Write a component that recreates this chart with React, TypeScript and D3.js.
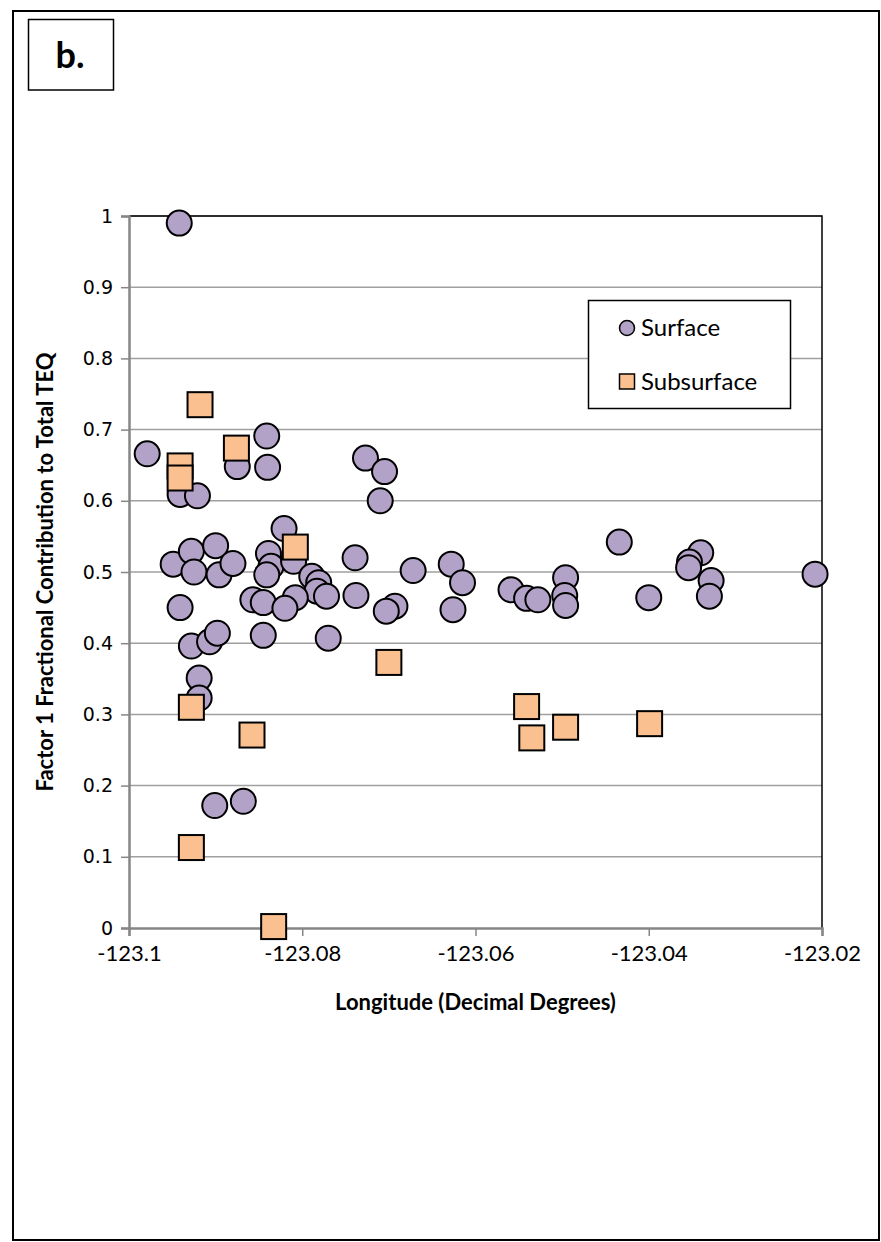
import { useEffect, useRef } from "react";
import * as d3 from "d3";

// longitude (decimal degrees), factor 1 fraction
const surfaceLon = [
  -123.0942, -123.0979, -123.0941, -123.0921, -123.0875, -123.0841, -123.084,
  -123.0821, -123.0949, -123.0928, -123.09, -123.0925, -123.0896, -123.088,
  -123.0839, -123.0836, -123.0841, -123.081, -123.0789, -123.0781, -123.0783,
  -123.0772, -123.0857, -123.0845, -123.0808, -123.082, -123.0941, -123.0845,
  -123.077, -123.0928, -123.0907, -123.0898, -123.0919, -123.0919, -123.0901,
  -123.0868, -123.0727, -123.0705, -123.071, -123.0739, -123.0738, -123.0672,
  -123.0693, -123.0703, -123.0628, -123.0615, -123.0626, -123.0559, -123.0541,
  -123.0528, -123.0496, -123.0497, -123.0496, -123.0434, -123.04, -123.034,
  -123.0353, -123.0354, -123.0328, -123.033, -123.0208,
];
const surfaceVal = [
  0.99, 0.666, 0.609, 0.607, 0.648, 0.691, 0.647, 0.561, 0.511, 0.529, 0.537,
  0.5, 0.496, 0.512, 0.526, 0.508, 0.496, 0.515, 0.494, 0.485, 0.473, 0.466,
  0.461, 0.457, 0.464, 0.449, 0.45, 0.411, 0.407, 0.396, 0.402, 0.414, 0.351,
  0.323, 0.172, 0.178, 0.66, 0.641, 0.6, 0.52, 0.467, 0.502, 0.452, 0.445,
  0.511, 0.485, 0.447, 0.475, 0.463, 0.461, 0.492, 0.467, 0.453, 0.542, 0.464,
  0.527, 0.514, 0.506, 0.488, 0.466, 0.497,
];

const subsurfaceLon = [
  -123.0918, -123.0941, -123.0941, -123.0876, -123.0808, -123.07, -123.0928,
  -123.0858, -123.0928, -123.0833, -123.0541, -123.0535, -123.0496, -123.0399,
];
const subsurfaceVal = [
  0.735, 0.649, 0.632, 0.674, 0.535, 0.373, 0.31, 0.271, 0.113, 0.002, 0.311,
  0.267, 0.282, 0.287,
];

const xTicks = [-123.1, -123.08, -123.06, -123.04, -123.02];
const yTicks = [0, 0.1, 0.2, 0.3, 0.4, 0.5, 0.6, 0.7, 0.8, 0.9, 1];

const W = 881;
const H = 1242;
const font = "Lato, 'Open Sans', sans-serif";

export default function App() {
  const svgRef = useRef<SVGSVGElement | null>(null);

  useEffect(() => {
    if (!svgRef.current) return;
    const svg = d3.select(svgRef.current);
    svg.selectAll("*").remove();

    const plot = { left: 129, right: 822, top: 216, bottom: 928 };
    const x = d3.scaleLinear().domain([-123.1, -123.02]).range([plot.left, plot.right]);
    const y = d3.scaleLinear().domain([0, 1]).range([plot.bottom, plot.top]);

    svg.append("rect").attr("width", W).attr("height", H).attr("fill", "#fff");

    // outer frame
    svg.append("rect")
      .attr("x", 13).attr("y", 11)
      .attr("width", 866).attr("height", 1229)
      .attr("fill", "none").attr("stroke", "#000").attr("stroke-width", 2);

    // panel label
    svg.append("rect")
      .attr("x", 28.5).attr("y", 19.5)
      .attr("width", 85).attr("height", 70.5)
      .attr("fill", "#fff").attr("stroke", "#000").attr("stroke-width", 1.5);
    svg.append("text")
      .attr("x", 70).attr("y", 68)
      .attr("text-anchor", "middle")
      .attr("font-family", font).attr("font-weight", 700).attr("font-size", 36)
      .text("b.");

    // gridlines
    svg.append("g")
      .selectAll("line")
      .data(yTicks.filter((t) => t > 0))
      .enter()
      .append("line")
      .attr("x1", plot.left).attr("x2", plot.right)
      .attr("y1", (d) => y(d)).attr("y2", (d) => y(d))
      .attr("stroke", "#a0a0a0").attr("stroke-width", 1.5);

    // plot border (top/right black)
    svg.append("path")
      .attr("d", `M${plot.left},${plot.top}H${plot.right}V${plot.bottom}`)
      .attr("fill", "none").attr("stroke", "#000").attr("stroke-width", 1.5);

    // y axis
    const yAxis = svg.append("g")
      .attr("transform", `translate(${plot.left},0)`)
      .call(d3.axisLeft(y).tickValues(yTicks).tickSize(8).tickPadding(8)
        .tickFormat((v) => String(v)));
    yAxis.select(".domain").attr("stroke", "#868686").attr("stroke-width", 2.5);
    yAxis.selectAll(".tick line").attr("stroke", "#868686").attr("stroke-width", 1.5);
    yAxis.selectAll(".tick text")
      .attr("font-family", "'DejaVu Sans', sans-serif").attr("font-size", 19).attr("fill", "#000");

    // x axis
    const xAxis = svg.append("g")
      .attr("transform", `translate(0,${plot.bottom})`)
      .call(d3.axisBottom(x).tickValues(xTicks).tickSize(8).tickPadding(9)
        .tickFormat((v) => String(v)));
    xAxis.select(".domain").attr("stroke", "#868686").attr("stroke-width", 2.5);
    xAxis.selectAll(".tick line").attr("stroke", "#868686").attr("stroke-width", 1.5);
    xAxis.selectAll(".tick text")
      .attr("font-family", font).attr("font-size", 22).attr("fill", "#000");

    // axis titles
    svg.append("text")
      .attr("transform", `translate(53,${(plot.top + plot.bottom) / 2}) rotate(-90)`)
      .attr("text-anchor", "middle")
      .attr("font-family", font).attr("font-weight", 700).attr("font-size", 22)
      .text("Factor 1 Fractional Contribution to Total TEQ");
    svg.append("text")
      .attr("x", (plot.left + plot.right) / 2).attr("y", 1010)
      .attr("text-anchor", "middle")
      .attr("font-family", font).attr("font-weight", 700).attr("font-size", 22)
      .text("Longitude (Decimal Degrees)");

    const purple = "#b3a2c7";
    const orange = "#fac090";

    // surface circles
    svg.append("g")
      .selectAll("circle")
      .data(surfaceLon.map((lon, i) => ({ lon, v: surfaceVal[i] })))
      .enter()
      .append("circle")
      .attr("cx", (d) => x(d.lon)).attr("cy", (d) => y(d.v))
      .attr("r", 12.5)
      .attr("fill", purple).attr("stroke", "#000").attr("stroke-width", 2);

    // subsurface squares
    const s = 25;
    svg.append("g")
      .selectAll("rect")
      .data(subsurfaceLon.map((lon, i) => ({ lon, v: subsurfaceVal[i] })))
      .enter()
      .append("rect")
      .attr("x", (d) => x(d.lon) - s / 2).attr("y", (d) => y(d.v) - s / 2)
      .attr("width", s).attr("height", s)
      .attr("fill", orange).attr("stroke", "#000").attr("stroke-width", 2);

    // legend
    const lg = svg.append("g");
    lg.append("rect")
      .attr("x", 588.5).attr("y", 300.5)
      .attr("width", 202).attr("height", 108)
      .attr("fill", "#fff").attr("stroke", "#000").attr("stroke-width", 1.5);
    lg.append("circle")
      .attr("cx", 627).attr("cy", 328).attr("r", 7.5)
      .attr("fill", purple).attr("stroke", "#000").attr("stroke-width", 1.5);
    lg.append("rect")
      .attr("x", 619.5).attr("y", 374).attr("width", 15).attr("height", 15)
      .attr("fill", orange).attr("stroke", "#000").attr("stroke-width", 1.5);
    lg.append("text")
      .attr("x", 641).attr("y", 336)
      .attr("font-family", font).attr("font-size", 24)
      .text("Surface");
    lg.append("text")
      .attr("x", 641).attr("y", 390)
      .attr("font-family", font).attr("font-size", 24)
      .text("Subsurface");
  }, []);

  return (
    <svg
      ref={svgRef}
      width={W}
      height={H}
      style={{ position: "absolute", left: 0, top: 0 }}
    />
  );
}
